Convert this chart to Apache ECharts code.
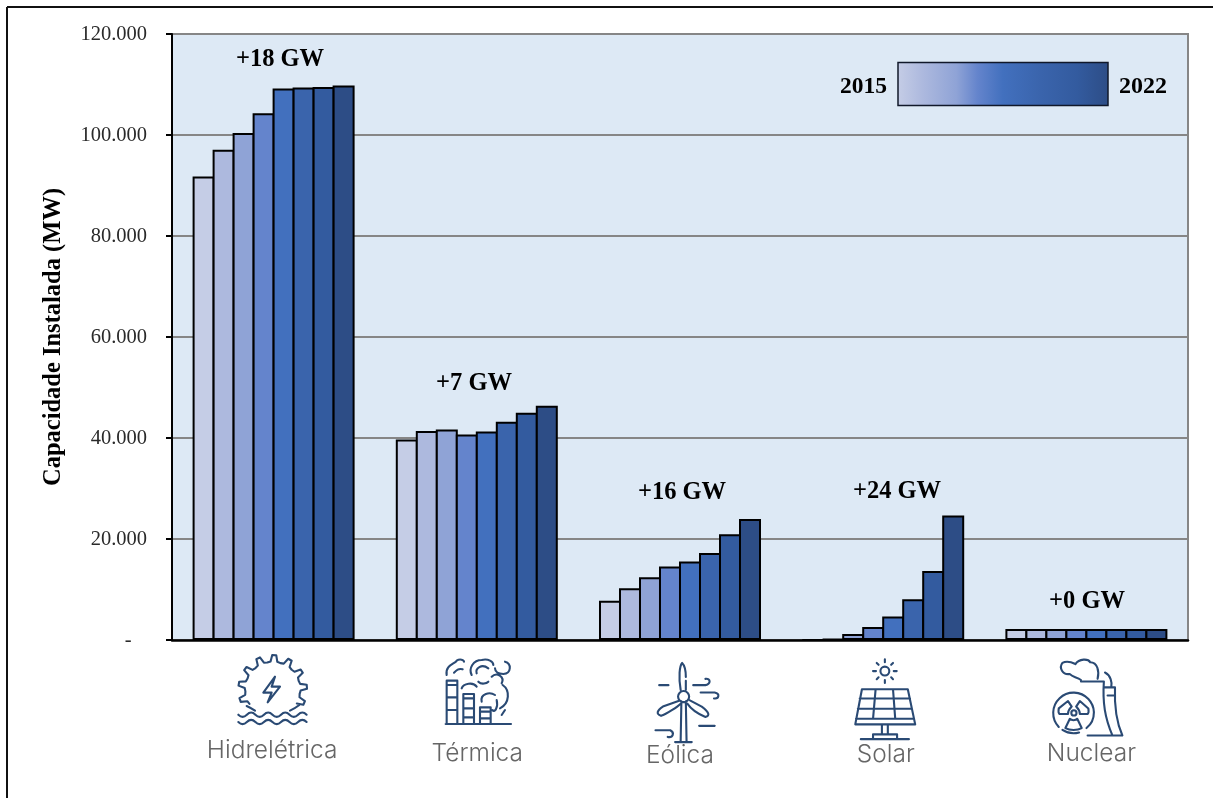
<!DOCTYPE html>
<html><head><meta charset="utf-8">
<style>html,body{margin:0;padding:0;background:#fff}#c{width:1213px;height:798px}</style>
<script src="https://cdn.jsdelivr.net/npm/echarts@6/dist/echarts.min.js"></script>
</head><body><div id="c"></div>
<script>
const categories = ['Hidrelétrica','Térmica','Eólica','Solar','Nuclear'];
const years = ['2015','2016','2017','2018','2019','2020','2021','2022'];
const hidreletrica = [91800,97100,100400,104300,109200,109400,109500,109800];
const termica = [39700,41400,41700,40700,41300,43200,45000,46400];
const eolica = [7750,10250,12450,14550,15550,17250,20950,23950];
const solar = [20,150,1200,2550,4650,8050,13650,24650];
const nuclear = [2200,2200,2200,2200,2200,2200,2200,2200];
const yearColors = ['#C5CDE6','#ADB9DE','#8FA3D6','#6484CC','#4270BE','#3A64AC','#335B9F','#2D4D86'];
const deltas = ['+18 GW','+7 GW','+16 GW','+24 GW','+0 GW'];
const deltaPos = [[280,60],[474,384],[682,493],[897,492],[1087,602]];
const labelPad = [[0,3,0,0],[3,0,0,1],[5,0,0,0],[4,0,0,5],[3.5,0,0,10]];
const table = [hidreletrica,termica,eolica,solar,nuclear];

const ink = '#2A4A74';
function gearPath(cx,cy,ri,ro,teeth){
  let d='', started=false;
  const step=360/teeth;
  for(let a=148;a<=372;a+=step){
    const p=[[a,ri],[a+step*.25,ri+2],[a+step*.38,ro],[a+step*.62,ro],[a+step*.75,ri+2]];
    p.forEach(q=>{const t=q[0]*Math.PI/180;const x=cx+q[1]*Math.cos(t),y=cy+q[1]*Math.sin(t);
      d+=(started?'L':'M')+x.toFixed(1)+' '+y.toFixed(1);started=true;});
  }
  return d;
}
function wave(x,y,n,s,a){
  let d='M'+x+' '+y;
  for(let i=0;i<n;i++){ d+='Q'+(x+s*(i+.5))+' '+(y+(i%2?-a:a))+' '+(x+s*(i+1))+' '+y; }
  return d;
}
const icon1 = gearPath(278,148,82,103,13)
 + 'M200 198Q215 205 225 212M330 212Q345 205 358 195'
 + 'M285 110L250 158H275L263 187L300 140H275Z'
 + wave(175,224,8,25.6,13) + wave(175,246,8,25.6,13);
const icon2 = 'M800 250V122H832V250M800 135H832M800 172H832M800 210H832'
 + 'M850 250V162H882V250M850 175H882M850 205H882M850 232H882'
 + 'M900 250V202H932V250M900 215H932M900 235H932M797 252H993'
 + 'M800 105C795 75 825 72 830 62C840 55 852 60 852 65M822 98C830 90 835 85 848 88'
 + 'M875 105C865 85 880 60 905 60C925 55 940 65 940 75M890 100C885 85 905 70 925 85'
 + 'M975 65C995 70 995 100 970 102C955 102 945 95 945 85'
 + 'M845 145C850 130 880 125 890 140M895 125C905 135 920 130 925 125'
 + 'M935 110C950 95 975 110 965 130M968 135C990 150 990 190 960 205'
 + 'M905 185C900 160 930 155 945 165M950 180C955 200 945 220 937 210M975 210L965 225';
const icon3 = 'M218 275L220 166M234 275L232 166M203 276H248'
 + 'M241 153A15 15 0 1 1 211 153A15 15 0 1 1 241 153'
 + 'M218 135C212 100 215 70 222 62C230 70 232 90 232 100M232 110V135'
 + 'M212 165L170 180C155 190 150 200 165 205C180 200 210 180 218 172'
 + 'M243 163L275 180C295 195 298 205 285 208C265 200 245 185 236 172'
 + 'M160 122H185M252 122H285C300 118 300 103 285 105M272 142H310C325 145 322 160 308 158'
 + 'M150 244H190C202 250 198 265 183 262M268 232H310';
const icon4 = 'M782 84A12 12 0 1 1 758 84A12 12 0 1 1 782 84'
 + 'M770 52V60M770 108V116M738 84H746M794 84H802M748 62L753 67M787 101L792 106M748 106L753 101M787 67L792 62'
 + 'M708 133H832L852 228H690ZM702 158H838M697 186H843M692 213H848M745 133L738 213M792 133L798 213'
 + 'M762 228V255M778 228V255M738 268V255H803V268M705 268H835';
const icon5 = 'M1240 235A55 55 0 1 1 1335 195A55 55 0 0 1 1315 238M1295 250A55 55 0 0 1 1250 243'
 + 'M1288 197A7 7 0 1 1 1274 197A7 7 0 1 1 1288 197'
 + 'M1265 165L1240 185C1238 195 1240 198 1242 200H1265C1265 190 1270 185 1275 180Z'
 + 'M1297 165L1320 185C1322 195 1320 198 1318 200H1297C1297 190 1292 185 1287 180Z'
 + 'M1270 213L1258 238C1270 245 1290 245 1302 238L1290 213C1285 218 1275 218 1270 213Z'
 + 'M1300 112H1362C1358 170 1365 210 1385 258H1318M1362 128H1392C1390 180 1395 220 1412 258H1385M1372 150H1392'
 + 'M1300 108C1290 100 1275 100 1270 92C1250 95 1240 75 1250 62C1262 55 1275 60 1285 65C1295 50 1320 50 1325 60C1345 60 1350 85 1345 105'
 + 'M1365 88C1380 95 1385 115 1382 128';

[icon1,icon2,icon3,icon4,icon5].forEach((d,i)=>{
  echarts.graphic.registerShape('icon'+i, echarts.graphic.extendPath(d,{}));
});
function iconEl(i,x0,k){
  return {type:'icon'+i,x:x0,y:640,scaleX:1/k,scaleY:1/k,
    style:{fill:null,stroke:ink,lineWidth:2.1*k,lineJoin:'round',lineCap:'round'},silent:true};
}
const serif='"Liberation Serif",serif';
const graphic=[
 {type:'line',shape:{x1:7,y1:7,x2:1213,y2:7},style:{stroke:'#111',lineWidth:2}},
 {type:'line',shape:{x1:7,y1:7,x2:7,y2:798},style:{stroke:'#111',lineWidth:2}},
 iconEl(0,180,3),iconEl(1,180,3),
 iconEl(2,600,2.703),iconEl(3,600,2.703),iconEl(4,600,2.703),
 {type:'rect',shape:{x:898,y:62.5,width:210,height:43},z:50,
  style:{stroke:'#10182a',lineWidth:1.5,fill:new echarts.graphic.LinearGradient(0,0,1,0,
    yearColors.map((c,i)=>({offset:[0,.12,.28,.38,.5,.68,.85,1][i],color:c})))}},
 {type:'text',x:887,y:87,z:50,style:{text:years[0],font:'bold 23.5px '+serif,fill:'#000',textAlign:'right',textVerticalAlign:'middle'}},
 {type:'text',x:1119,y:87,z:50,style:{text:years[7],font:'bold 24px '+serif,fill:'#000',textAlign:'left',textVerticalAlign:'middle'}},
 ...deltas.map((t,i)=>({type:'text',x:deltaPos[i][0],y:deltaPos[i][1],z:50,
   style:{text:t,font:'bold 24.5px '+serif,fill:'#000',textAlign:'center',textVerticalAlign:'middle'}}))
];
const rich={};
labelPad.forEach((s,i)=>{rich['c'+i]={fontFamily:'Inter',fontWeight:300,fontSize:24.5,color:'#666',padding:s};});

const chart=echarts.init(document.getElementById('c'),null,{renderer:'canvas'});
chart.setOption({
 animation:false,backgroundColor:'#fff',
 grid:{left:172,top:34,width:1016,height:606,show:true,backgroundColor:'#DDE9F5',borderColor:'#868686',borderWidth:2},
 xAxis:{type:'category',data:categories,
  axisLine:{lineStyle:{color:'#000',width:2.5}},axisTick:{show:false},
  axisLabel:{margin:98,interval:0,formatter:(v,i)=>'{c'+i+'|'+v+'}',rich}},
 yAxis:{type:'value',min:0,max:120000,interval:20000,
  name:'Capacidade Instalada (MW)',nameLocation:'middle',nameGap:106,
  nameTextStyle:{fontFamily:serif,fontWeight:'bold',fontSize:24.5,color:'#000'},
  axisLine:{show:true,lineStyle:{color:'#000',width:2}},
  axisTick:{show:true,length:6,lineStyle:{color:'#000',width:2}},
  axisLabel:{margin:25,
   rich:{t:{fontFamily:serif,fontSize:20.5,color:'#2a2a2a',padding:[2,0,0,0]}},
   formatter:v=>'{t|'+(v===0?'-\u00A0\u00A0\u00A0':String(v/1000)+'.000')+'}'},
  splitLine:{lineStyle:{color:'#868686',width:2}}},
 series:years.map((y,k)=>({name:y,type:'bar',data:table.map(r=>r[k]),
   barWidth:22,barGap:'-9.09%',
   itemStyle:{color:yearColors[k],borderColor:'#000',borderWidth:2}})),
 graphic
});
</script></body></html>
